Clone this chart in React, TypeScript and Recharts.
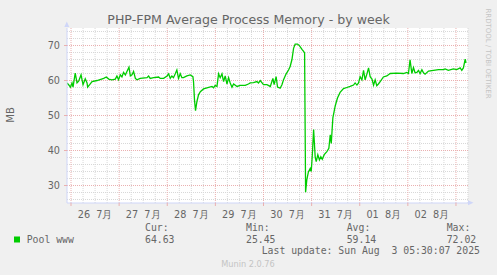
import { LineChart, Line, XAxis, YAxis, ReferenceLine, CartesianGrid } from "recharts";

// hours counted from 26 Jul 00:00
const hours = [
  -2.0, -1.2, -0.3, 0.5, 1.0, 2.1, 3.0, 3.8, 5.0, 6.0, 7.1, 8.0, 8.3, 9.3, 10.5, 13.0, 16.3, 17.6, 18.8, 20.4,
  22.1, 22.9, 23.7, 24.6, 25.4, 26.2, 27.1, 27.9, 28.9, 29.6, 30.4, 31.2, 32.1, 32.9, 34.5, 37.9, 38.7, 39.5, 41.2, 43.7,
  44.5, 46.2, 47.9, 48.7, 49.5, 50.3, 51.1, 52.0, 52.8, 53.6, 54.5, 55.3, 56.1, 57.8, 59.5, 60.8, 61.1, 61.6, 62.1, 62.8,
  63.6, 64.5, 66.1, 67.8, 70.3, 71.1, 71.9, 72.8, 73.6, 74.4, 75.3, 76.1, 76.9, 77.8, 78.6, 79.4, 80.3, 81.1, 82.8, 84.4,
  86.9, 88.5, 89.4, 91.0, 92.7, 93.5, 94.4, 95.2, 96.0, 97.7, 99.4, 100.7, 101.3, 102.3, 103.0, 104.3, 105.2, 106.0, 107.3, 108.5,
  109.3, 110.2, 111.0, 111.8, 113.0, 114.0, 115.2, 116.0, 116.5, 117.0, 117.6, 118.4, 119.3, 119.8, 120.3, 121.0, 121.8, 122.3, 123.1, 123.9,
  124.6, 125.3, 126.3, 127.6, 128.6, 129.3, 129.8, 130.6, 131.8, 132.9, 134.2, 135.9, 137.6, 139.2, 140.9, 141.7, 142.6, 143.4, 144.2, 145.1,
  145.9, 146.7, 147.6, 148.4, 149.2, 150.1, 150.9, 151.7, 152.5, 153.3, 154.2, 155.8, 157.5, 159.2, 162.5, 165.8, 167.5, 168.3, 169.1, 170.0,
  170.8, 171.6, 172.5, 173.3, 174.1, 175.0, 175.8, 176.6, 178.3, 180.8, 183.3, 185.7, 186.6, 188.2, 190.7, 192.4, 194.1, 194.9, 195.7, 196.6,
  197.0,
];
const memMB = [
  59.3, 58.8, 58.1, 59.3, 58.1, 62.1, 59.3, 59.8, 61.6, 58.8, 60.5, 59.3, 58.1, 58.8, 59.7, 60.0, 60.6, 61.0, 60.4, 60.2,
  60.4, 61.3, 60.2, 61.6, 61.0, 62.3, 61.6, 62.6, 63.8, 61.3, 61.6, 62.6, 60.6, 60.2, 60.6, 60.8, 61.3, 60.6, 60.8, 61.0,
  60.6, 60.6, 61.3, 61.9, 60.6, 61.3, 60.8, 61.9, 63.0, 60.6, 61.9, 60.8, 60.8, 61.3, 61.6, 61.1, 59.7, 54.4, 51.4, 54.0,
  55.9, 56.8, 57.6, 57.9, 58.3, 57.9, 58.6, 58.3, 61.9, 60.8, 61.9, 59.7, 61.3, 59.0, 60.8, 59.3, 58.1, 59.0, 58.3, 58.6,
  58.6, 59.0, 59.3, 59.4, 59.7, 59.3, 60.0, 59.4, 58.8, 58.8, 58.3, 60.6, 58.8, 61.1, 58.1, 57.8, 58.8, 60.2, 61.9, 63.0,
  64.0, 66.0, 69.2, 70.4, 70.4, 69.9, 68.9, 68.3, 67.9, 28.1, 31.6, 33.9, 34.9, 34.0, 38.2, 46.0, 38.0, 36.8, 38.8, 37.3,
  38.2, 37.5, 38.8, 39.7, 40.6, 44.5, 42.0, 49.3, 52.8, 55.0, 56.6, 57.7, 58.0, 58.3, 58.7, 59.3, 58.7, 59.3, 61.1, 60.2,
  62.9, 60.2, 61.9, 63.6, 61.1, 60.4, 58.7, 60.2, 58.5, 59.0, 59.7, 61.0, 61.3, 62.0, 62.1, 62.0, 62.3, 62.0, 65.9, 62.0,
  63.7, 62.2, 62.3, 62.9, 62.0, 63.1, 62.2, 61.8, 62.7, 62.9, 63.1, 63.1, 63.3, 62.9, 63.3, 63.1, 63.6, 62.9, 63.6, 66.1,
  65.0,
];

const dayHours = [0, 24, 48, 72, 96, 120, 144, 168, 192];
const minorHours = [6, 12, 18, 30, 36, 42, 54, 60, 66, 78, 84, 90, 102, 108, 114, 126, 132, 138, 150, 156, 162, 174, 180, 186, 198];
const labelHours = [12, 36, 60, 84, 108, 132, 156, 180];
const dayLabels = ["26  7月", "27  7月", "28  7月", "29  7月", "30  7月", "31  7月", "01  8月", "02  8月"];
const yMajor = [30, 40, 50, 60, 70];
const yMinor = [26, 28, 32, 34, 36, 38, 42, 44, 46, 48, 52, 54, 56, 58, 62, 64, 66, 68, 72, 74];

const seriesName = "Pool www";
const statCur = "64.63";
const statMin = "25.45";
const statAvg = "59.14";
const statMax = "72.02";
const lastUpdate = "Last update: Sun Aug  3 05:30:07 2025";

const data = hours.map((h, i) => ({ h, mb: memMB[i] }));
const xTicks = [...dayHours, ...labelHours].sort((a, b) => a - b);

const FONT = "#666666";
const AXIS = "#CFD6F8";
const MGRID = "#eab0b0";
const GRID = "#d8d8d8";
const SANS = "'DejaVu Sans', sans-serif";
const MONO = "'DejaVu Sans Mono', monospace";

const DayTick = ({ x, y, payload }: any) => {
  const i = labelHours.indexOf(payload.value);
  if (i < 0) return <line x1={x} y1={y} x2={x} y2={y + 3} stroke={MGRID} />;
  return (
    <text x={x} y={y + 14.5} textAnchor="middle" fill={FONT} fontSize={9.7} fontFamily={SANS} style={{ whiteSpace: "pre" }}>
      {dayLabels[i]}
    </text>
  );
};

const legend = { fill: FONT, fontSize: 9.8, fontFamily: MONO } as const;

export default function App() {
  return (
    <div style={{ position: "absolute", left: 0, top: 0, width: 497, height: 275, background: "#f0f0f0" }}>
      <LineChart width={497} height={275} data={data} margin={{ top: 28, right: 29, bottom: 52, left: 27 }}>
        <CartesianGrid horizontal={false} vertical={false} fill="#ffffff" />
        {yMinor.map((v) => (
          <ReferenceLine key={"ym" + v} y={v} stroke={GRID} strokeDasharray="1 1" zIndex={-50} />
        ))}
        {minorHours.map((v) => (
          <ReferenceLine key={"xm" + v} x={v} stroke={GRID} strokeDasharray="1 1" zIndex={-50} />
        ))}
        {yMajor.map((v) => (
          <ReferenceLine key={"yM" + v} y={v} stroke={MGRID} strokeDasharray="1 1" zIndex={-40} />
        ))}
        {dayHours.map((v) => (
          <ReferenceLine key={"xM" + v} x={v} stroke={MGRID} strokeDasharray="1 1" zIndex={-40} />
        ))}
        <XAxis
          dataKey="h"
          type="number"
          domain={[-2, 198]}
          ticks={xTicks}
          interval={0}
          height={20}
          tickLine={false}
          tickSize={0}
          tickMargin={0}
          tick={<DayTick />}
          axisLine={{ stroke: AXIS }}
          allowDataOverflow
        />
        <YAxis
          type="number"
          domain={[25, 75]}
          ticks={yMajor}
          interval={0}
          width={40}
          tickSize={3}
          tickMargin={4}
          tickLine={{ stroke: MGRID }}
          axisLine={{ stroke: AXIS }}
          tick={{ fill: FONT, fontSize: 9.7, fontFamily: SANS }}
          allowDataOverflow
        />
        <Line
          type="linear"
          dataKey="mb"
          stroke="#00cc00"
          strokeWidth={1.3}
          dot={false}
          activeDot={false}
          isAnimationActive={false}
        />
      </LineChart>
      <svg width={497} height={275} style={{ position: "absolute", left: 0, top: 0, pointerEvents: "none" }}>
        <polygon points="64.3,27 69.3,27 66.8,21.5" fill={AXIS} />
        <polygon points="468,200.2 468,205.2 473.5,202.7" fill={AXIS} />
        <text x={248.5} y={23.7} textAnchor="middle" fill={FONT} fontSize={12.6} fontFamily={SANS}>
          PHP-FPM Average Process Memory - by week
        </text>
        <text x={10} y={115} transform="rotate(-90 10 115)" textAnchor="middle" dominantBaseline="central" fill={FONT} fontSize={10} fontFamily={SANS}>
          MB
        </text>
        <text x={487.7} y={53.5} transform="rotate(90 487.7 53.5)" textAnchor="middle" dominantBaseline="central" fill="#c4c4c4" fontSize={7} fontFamily={SANS}>
          RRDTOOL / TOBI OETIKER
        </text>
        <rect x={14} y={236.5} width={6} height={6} fill="#00cc00" />
        <text x={26.7} y={243} {...legend}>{seriesName}</text>
        <text x={145} y={231} {...legend}>Cur:</text>
        <text x={145} y={243} {...legend}>{statCur}</text>
        <text x={246} y={231} {...legend}>Min:</text>
        <text x={246} y={243} {...legend}>{statMin}</text>
        <text x={346.7} y={231} {...legend}>Avg:</text>
        <text x={346.7} y={243} {...legend}>{statAvg}</text>
        <text x={446.7} y={231} {...legend}>Max:</text>
        <text x={446.7} y={243} {...legend}>{statMax}</text>
        <text x={261.7} y={254.3} {...legend} style={{ whiteSpace: "pre" }}>{lastUpdate}</text>
        <text x={248} y={266.5} textAnchor="middle" fill="#c4c4c4" fontSize={8.2} fontFamily={SANS}>
          Munin 2.0.76
        </text>
      </svg>
    </div>
  );
}
